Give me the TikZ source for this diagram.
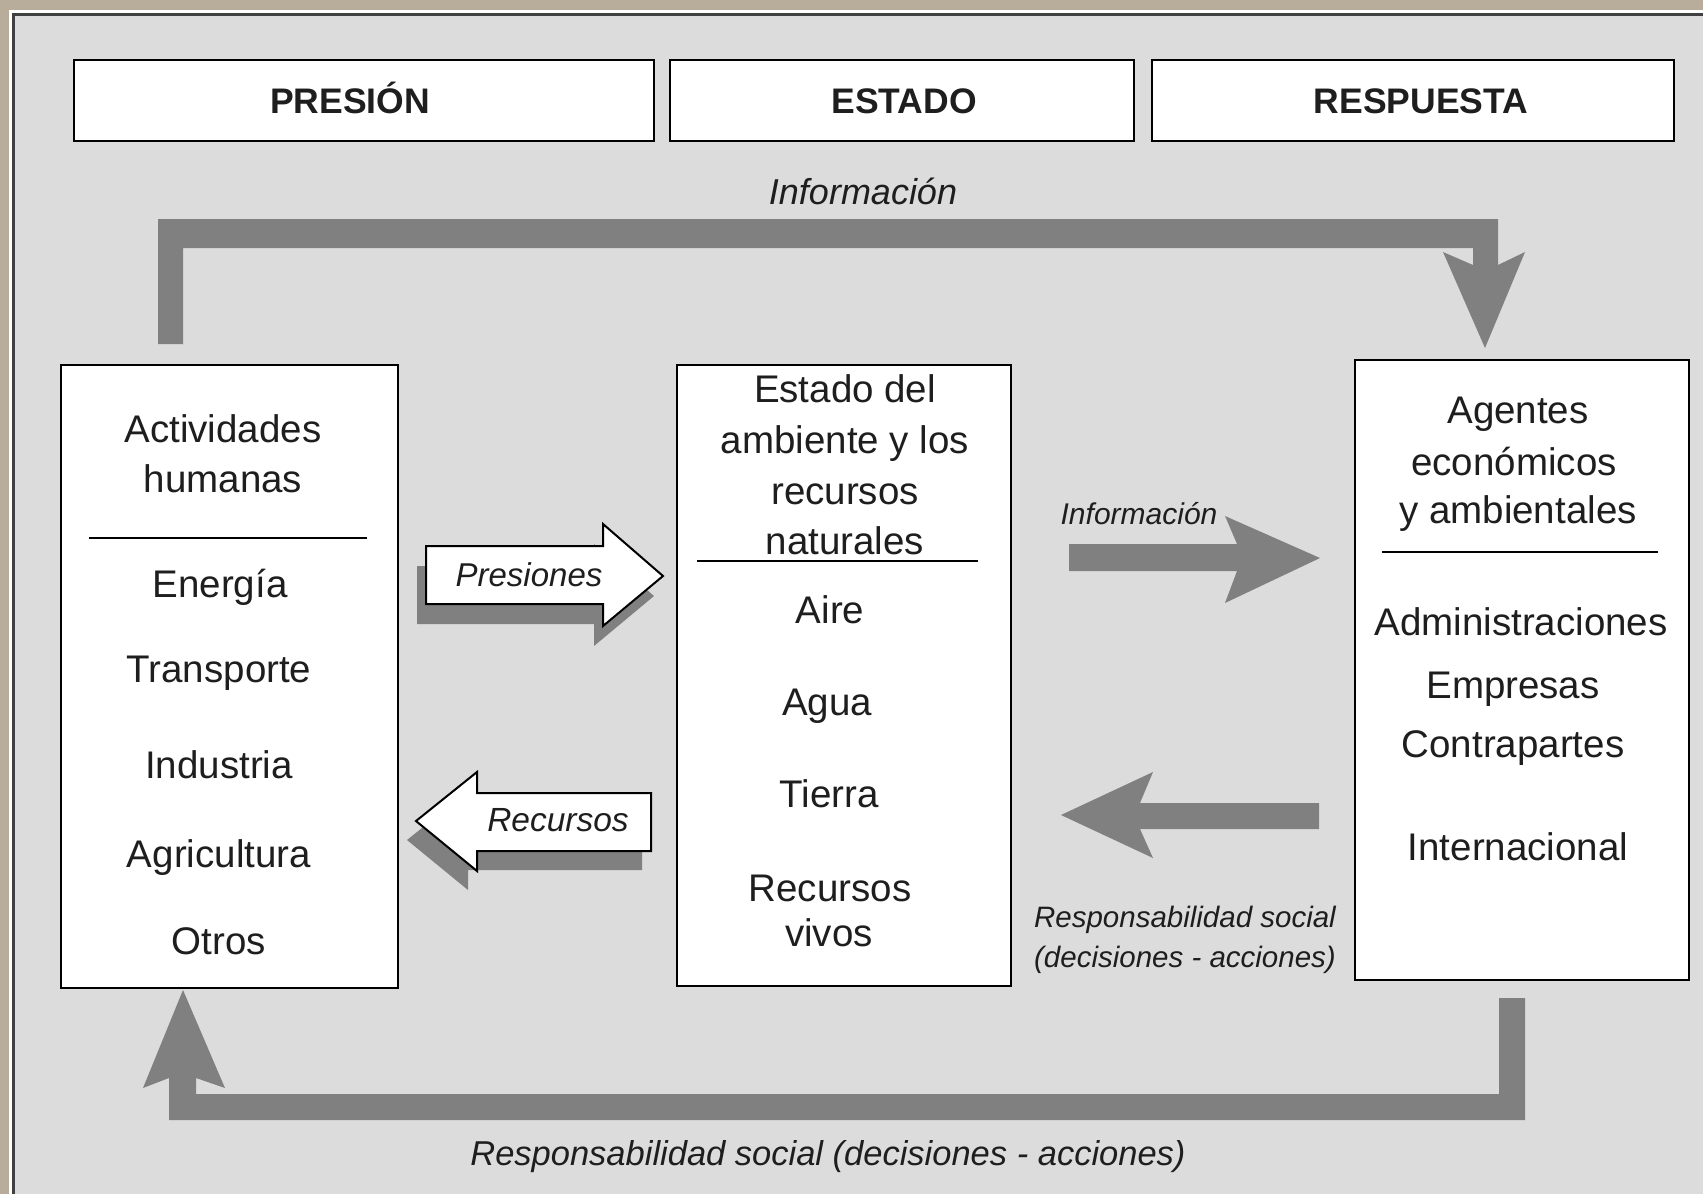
\documentclass[tikz,border=0pt]{standalone}
\usepackage{fontspec}
\setmainfont{Liberation Sans}
\definecolor{beige}{HTML}{B8AC9A}
\definecolor{panel}{HTML}{DCDCDC}
\definecolor{arrowgray}{HTML}{808080}
\definecolor{ink}{HTML}{1E1E1E}
\begin{document}
\begin{tikzpicture}[x=1pt,y=-1pt,
  box/.style={draw=black, line width=2.5pt, fill=white, rectangle, inner sep=0pt, outer sep=0pt},
  head/.style={anchor=base, text=ink, font=\fontsize{35.5}{40}\selectfont\bfseries},
  txt/.style={anchor=base, text=ink, font=\fontsize{38.5}{44}\selectfont},
  itl/.style={anchor=base, text=ink, font=\fontsize{#1}{#1}\selectfont\itshape},
  divider/.style={draw=black, line width=2pt},
  fat/.style={fill=arrowgray},
  hollow/.style={fill=white, draw=black, line width=2pt, line join=miter}]
\useasboundingbox (0,0) rectangle (1703,1194);
% frame
\fill[beige] (0,0) rectangle (1703,1194);
\fill[white] (9,10) rectangle (1703,1194);
\fill[panel] (13,14) rectangle (1703,1194);
\draw[line width=3pt, ink!85] (13.5,1194) -- (13.5,14.5) -- (1703,14.5);

% header boxes
\node[box, minimum width=580, minimum height=81] (presion) at (364,100.5) {};
\node[box, minimum width=464, minimum height=81] (estado) at (902,100.5) {};
\node[box, minimum width=522, minimum height=81] (respuesta) at (1413,100.5) {};
\node[head] (tpresion) at (350,113) {PRESIÓN};
\node[head] (testado) at (904,113) {ESTADO};
\node[head] (trespuesta) at (1421,113) {RESPUESTA};

% main boxes
\node[box, minimum width=337, minimum height=623] (left) at (229.5,676.5) {};
\node[box, minimum width=334, minimum height=621] (mid) at (844,675.5) {};
\node[box, minimum width=334, minimum height=620] (right) at (1522,670) {};

% left box content
\node[txt] (l1) at (223,442) {Actividades};
\node[txt] (l2) at (223,492) {humanas};
\draw[divider] (89,538) -- (367,538);
\node[txt] (l3) at (220,597) {Energía};
\node[txt] (l4) at (219,682) {Transporte};
\node[txt] (l5) at (219,778) {Industria};
\node[txt] (l6) at (219,867) {Agricultura};
\node[txt] (l7) at (219,954) {Otros};

% middle box content
\node[txt] (m1) at (845,402) {Estado del};
\node[txt] (m2) at (845,453) {ambiente y los};
\node[txt] (m3) at (845,504) {recursos};
\node[txt] (m4) at (845,554) {naturales};
\draw[divider] (697,561) -- (978,561);
\node[txt] (m5) at (830,623) {Aire};
\node[txt] (m6) at (827,715) {Agua};
\node[txt] (m7) at (829,807) {Tierra};
\node[txt] (m8) at (830,901) {Recursos};
\node[txt] (m9) at (829,946) {vivos};

% right box content
\node[txt] (r1) at (1518,423) {Agentes};
\node[txt] (r2) at (1514,475) {económicos};
\node[txt] (r3) at (1518,523) {y ambientales};
\draw[divider] (1382,552) -- (1658,552);
\node[txt] (r4) at (1521,635) {Administraciones};
\node[txt] (r5) at (1513,698) {Empresas};
\node[txt] (r6) at (1513,757) {Contrapartes};
\node[txt] (r7) at (1518,860) {Internacional};

% top information loop arrow
\fill[fat] (158,344) -- (158,219) -- (1498,219) -- (1498,265) -- (1525,252) -- (1485,348)
  -- (1443,252) -- (1473,265) -- (1473,248) -- (183,248) -- (183,344) -- cycle;
\node[itl=36] (tinfo) at (863,204) {Información};

% bottom responsibility loop arrow
\fill[fat] (1525,998) -- (1525,1120) -- (169,1120) -- (169,1078) -- (143,1088) -- (183,990)
  -- (225,1088) -- (196,1078) -- (196,1094) -- (1499,1094) -- (1499,998) -- cycle;
\node[itl=34.5] (bresp) at (828,1165) {Responsabilidad social (decisiones - acciones)};

% middle information arrow
\fill[fat] (1069,544) -- (1237,544) -- (1225,516) -- (1320,558) -- (1225,603) -- (1237,571)
  -- (1069,571) -- cycle;
\node[itl=30] (minfo) at (1139,524) {Información};

% middle responsibility arrow
\fill[fat] (1319,803) -- (1140,803) -- (1153,772) -- (1061,815) -- (1153,858) -- (1140,829)
  -- (1319,829) -- cycle;
\node[itl=29.5] (mresp1) at (1185,927) {Responsabilidad social};
\node[itl=29.5] (mresp2) at (1185,967) {(decisiones - acciones)};

% Presiones hollow arrow
\fill[fat, shift={(-9,20)}] (426,546) -- (603,546) -- (603,524) -- (663,576) -- (603,626)
  -- (603,604) -- (426,604) -- cycle;
\filldraw[hollow] (426,546) -- (603,546) -- (603,524) -- (663,576) -- (603,626)
  -- (603,604) -- (426,604) -- cycle;
\node[itl=33] (pres) at (529,586) {Presiones};

% Recursos hollow arrow
\fill[fat, shift={(-9,19)}] (651,793) -- (477,793) -- (477,772) -- (416,821) -- (477,871)
  -- (477,851) -- (651,851) -- cycle;
\filldraw[hollow] (651,793) -- (477,793) -- (477,772) -- (416,821) -- (477,871)
  -- (477,851) -- (651,851) -- cycle;
\node[itl=33.5] (rec) at (558,831) {Recursos};
\end{tikzpicture}
\end{document}
